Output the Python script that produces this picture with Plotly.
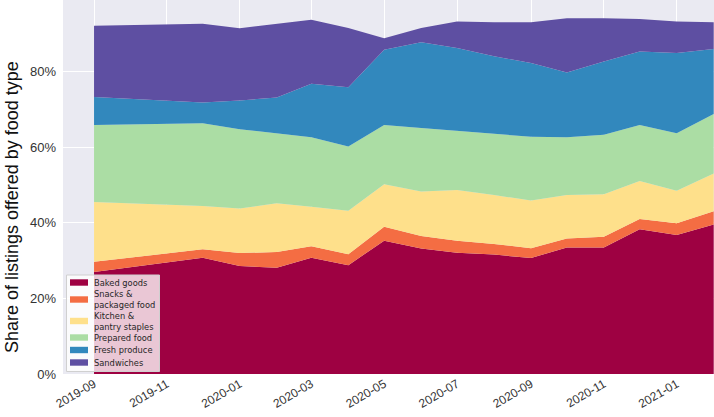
import plotly.graph_objects as go

months = ["2019-09-01", "2019-12-01", "2020-01-01", "2020-02-01", "2020-03-01", "2020-04-01",
          "2020-05-01", "2020-06-01", "2020-07-01", "2020-08-01", "2020-09-01", "2020-10-01",
          "2020-11-01", "2020-12-01", "2021-01-01", "2021-02-01"]

baked_goods = [27.0, 30.8, 28.6, 28.1, 30.8, 28.8, 35.3, 33.2, 32.1, 31.6, 30.7, 33.5, 33.5, 38.3, 36.8, 39.6]
snacks = [2.7, 2.2, 3.4, 4.2, 3.0, 2.9, 3.7, 3.3, 3.2, 2.8, 2.6, 2.4, 2.8, 2.7, 3.1, 3.5]
kitchen = [15.8, 11.5, 11.8, 12.9, 10.5, 11.5, 11.2, 11.8, 13.4, 13.0, 12.6, 11.5, 11.3, 10.1, 8.6, 10.0]
prepared = [20.4, 21.9, 21.0, 18.5, 18.4, 17.0, 15.7, 16.8, 15.7, 16.3, 16.9, 15.3, 15.7, 14.8, 15.2, 15.7]
fresh = [7.4, 5.5, 7.6, 9.5, 14.1, 15.7, 19.9, 22.7, 21.9, 20.4, 19.5, 17.1, 19.4, 19.5, 21.3, 17.2]
sandwiches = [18.9, 20.8, 19.1, 19.5, 17.0, 15.7, 3.1, 3.8, 7.0, 9.0, 10.8, 14.4, 11.5, 8.6, 8.3, 7.1]

series_names = ["Baked goods", "Snacks &<br>packaged food", "Kitchen &<br>pantry staples",
                "Prepared food", "Fresh produce", "Sandwiches"]
series_values = [baked_goods, snacks, kitchen, prepared, fresh, sandwiches]
colors = ["#9E0142", "#F46D43", "#FEE08B", "#ABDDA4", "#3288BD", "#5E4FA2"]
y_title = "Share of listings offered by food type"

W, H = 714, 417
ML, MR, MT, MB = 63, 0, 0, 43
PW, PH = W - ML - MR, H - MT - MB


def px(x):
    return (x - ML) / PW


def py(y):
    return (MT + PH - y) / PH


fig = go.Figure()
for name, vals, col in zip(series_names, series_values, colors):
    fig.add_trace(go.Scatter(
        x=months, y=vals, name=name, mode="lines", stackgroup="one",
        line=dict(width=0, color=col), fillcolor=col, showlegend=False,
    ))

# legend box drawn on an overlaid unit subplot (sits above the areas)
bx0, bx1, by0, by1 = px(66.5), px(159.5), py(371.5), py(275)
fig.add_trace(go.Scatter(
    x=[bx0, bx1, bx1, bx0, bx0], y=[by0, by0, by1, by1, by0],
    xaxis="x2", yaxis="y2", mode="lines", fill="toself",
    fillcolor="rgba(255,255,255,0.78)", line=dict(color="#D0D0D0", width=1),
    showlegend=False, hoverinfo="skip",
))

entry_centers = [282.5, 299.5, 321, 337.5, 350, 362.5]
for name, col, cy in zip(series_names, colors, entry_centers):
    fig.add_shape(type="rect", xref="paper", yref="paper",
                  x0=px(70), x1=px(88), y0=py(cy + 3.2), y1=py(cy - 3.2),
                  fillcolor=col, line=dict(width=0), layer="above")
    fig.add_annotation(xref="paper", yref="paper", x=px(92), y=py(cy),
                       xanchor="left", yanchor="middle", align="left",
                       text=name, showarrow=False,
                       font=dict(family="DejaVu Sans, sans-serif", size=8.3, color="#262626"))

fig.add_annotation(xref="paper", yref="paper", x=px(12), y=py(207),
                   xanchor="center", yanchor="middle", textangle=-90,
                   text=y_title, showarrow=False,
                   font=dict(family="Liberation Sans, Arial, sans-serif", size=18, color="#111111"))

fig.update_layout(
    width=W, height=H,
    margin=dict(l=ML, r=MR, t=MT, b=MB, autoexpand=False),
    paper_bgcolor="white",
    plot_bgcolor="#EAEAF2",
    font=dict(family="Liberation Sans, Arial, sans-serif", color="#333333"),
    showlegend=False,
    xaxis2=dict(overlaying="x", range=[0, 1], visible=False, fixedrange=True),
    yaxis2=dict(overlaying="y", range=[0, 1], visible=False, fixedrange=True),
)

fig.update_xaxes(
    selector=dict(anchor="y"),
)
fig.update_layout(xaxis=dict(
    type="date", automargin=False,
    range=["2019-08-06", "2021-02-01 06:00"],
    tick0="2019-09-01", dtick="M2", tickformat="%Y-%m",
    tickangle=-30,
    showgrid=True, gridcolor="white", gridwidth=1,
    zeroline=False, showline=False, ticks="",
    tickfont=dict(size=12, color="#333333"),
))
fig.update_layout(yaxis=dict(
    range=[0, 99], automargin=False,
    tickvals=[0, 20, 40, 60, 80], ticktext=["0%", "20%", "40%", "60%", "80%"],
    showgrid=True, gridcolor="white", gridwidth=1,
    zeroline=False, showline=False, ticks="",
    ticklabelstandoff=6,
    tickfont=dict(size=13, color="#333333"),
))

fig.write_html("out.html",
               config={"displayModeBar": False},
               post_script="document.body.style.margin='0';document.body.style.padding='0';")
